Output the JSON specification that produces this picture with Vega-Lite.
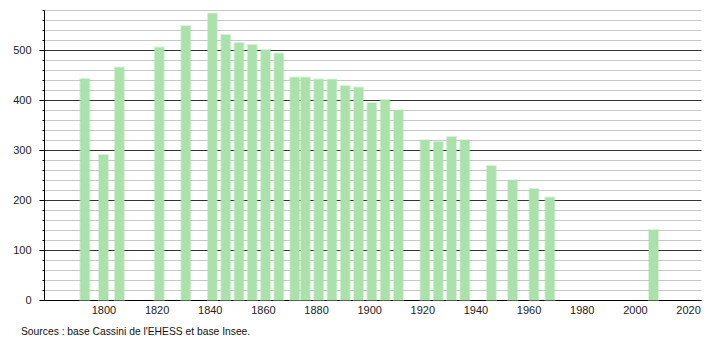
{
  "$schema": "https://vega.github.io/schema/vega-lite/v6.json",
  "width": 657,
  "height": 290,
  "autosize": {"type": "none"},
  "padding": {"left": 44, "top": 10, "right": 9, "bottom": 40},
  "background": "white",
  "config": {"view": {"stroke": null}, "font": "Liberation Sans"},
  "title": {
    "text": "Sources : base Cassini de l'EHESS et base Insee.",
    "orient": "bottom",
    "anchor": "start",
    "frame": "group",
    "fontSize": 10.3,
    "fontWeight": "normal",
    "color": "#111",
    "dx": -23,
    "offset": 12
  },
  "data": {
    "values": [
      {"year": 1793, "population": 442},
      {"year": 1800, "population": 290},
      {"year": 1806, "population": 465},
      {"year": 1821, "population": 505},
      {"year": 1831, "population": 548},
      {"year": 1841, "population": 573},
      {"year": 1846, "population": 530},
      {"year": 1851, "population": 514},
      {"year": 1856, "population": 510},
      {"year": 1861, "population": 500},
      {"year": 1866, "population": 493},
      {"year": 1872, "population": 445},
      {"year": 1876, "population": 445},
      {"year": 1881, "population": 441},
      {"year": 1886, "population": 441},
      {"year": 1891, "population": 428},
      {"year": 1896, "population": 425},
      {"year": 1901, "population": 394},
      {"year": 1906, "population": 400},
      {"year": 1911, "population": 379},
      {"year": 1921, "population": 319},
      {"year": 1926, "population": 316},
      {"year": 1931, "population": 326},
      {"year": 1936, "population": 319},
      {"year": 1946, "population": 268},
      {"year": 1954, "population": 239},
      {"year": 1962, "population": 222},
      {"year": 1968, "population": 205},
      {"year": 2007, "population": 140}
    ]
  },
  "mark": {"type": "bar", "width": 9, "color": "#abe2ab", "stroke": "#abe2ab", "strokeWidth": 2, "strokeOpacity": 0.45},
  "encoding": {
    "x": {
      "field": "year",
      "type": "quantitative",
      "scale": {"domain": [1779.5, 2023], "nice": false, "zero": false},
      "axis": {
        "values": [1800, 1820, 1840, 1860, 1880, 1900, 1920, 1940, 1960, 1980, 2000, 2020],
        "format": "d",
        "title": null,
        "grid": false,
        "ticks": false,
        "labelPadding": 4,
        "labelFlush": false,
        "labelFontSize": 11,
        "labelColor": "#222",
        "domainColor": "#000"
      }
    },
    "y": {
      "field": "population",
      "type": "quantitative",
      "scale": {"domain": [0, 580], "nice": false},
      "axis": {
        "values": [0, 20, 40, 60, 80, 100, 120, 140, 160, 180, 200, 220, 240, 260, 280, 300, 320, 340, 360, 380, 400, 420, 440, 460, 480, 500, 520, 540, 560, 580],
        "title": null,
        "labelExpr": "datum.value % 100 === 0 ? datum.label : ''",
        "labelFontSize": 11,
        "labelColor": "#222",
        "labelPadding": 8,
        "gridColor": {"condition": {"test": "datum.value % 100 === 0", "value": "#333"}, "value": "#c8c8c8"},
        "gridWidth": 1,
        "tickSize": {"condition": {"test": "datum.value % 100 === 0", "value": 5}, "value": 2},
        "tickColor": "#000",
        "domainColor": "#000"
      }
    }
  }
}
